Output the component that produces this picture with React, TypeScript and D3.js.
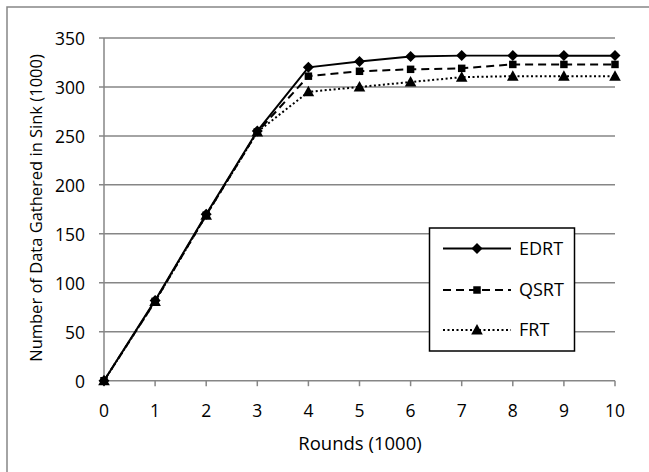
import React from "react";
import * as d3 from "d3";

const rounds = [0, 1, 2, 3, 4, 5, 6, 7, 8, 9, 10];
const edrt = [0, 82, 170, 255, 320, 326, 331, 332, 332, 332, 332];
const qsrt = [0, 81, 169, 254, 311, 316, 318, 319, 323, 323, 323];
const frt = [0, 81, 169, 254, 295, 300, 305, 310, 311, 311, 311];
const yTicks = [0, 50, 100, 150, 200, 250, 300, 350];
const xTicks = [0, 1, 2, 3, 4, 5, 6, 7, 8, 9, 10];
const seriesNames = ["EDRT", "QSRT", "FRT"];
const xTitle = "Rounds (1000)";
const yTitle = "Number of Data Gathered in Sink (1000)";

const W = 649;
const H = 472;
const FONT = "'Open Sans', sans-serif";

export default function App() {
  const x = d3.scaleLinear().domain([0, 10]).range([104, 615]);
  const y = d3.scaleLinear().domain([0, 350]).range([380.7, 38]);

  const series = [
    { name: seriesNames[0], values: edrt, dash: "none", marker: "diamond" },
    { name: seriesNames[1], values: qsrt, dash: "8,5", marker: "square" },
    { name: seriesNames[2], values: frt, dash: "2,2.5", marker: "triangle" },
  ];

  const line = d3
    .line<number>()
    .x((_, i) => x(rounds[i]))
    .y((d) => y(d));

  const symbolPath = (m: string) => {
    if (m === "diamond") return "M0,-5.5L5.5,0L0,5.5L-5.5,0Z";
    if (m === "square") return d3.symbol(d3.symbolSquare, 56)() as string;
    return "M0,-6L5.8,4.5L-5.8,4.5Z";
  };

  const legendX = 429.5;
  const legendY = 228;
  const legendW = 145;
  const legendH = 123;
  const legendRows = [248.5, 290, 330];

  return (
    <svg
      width={W}
      height={H}
      style={{ position: "absolute", left: 0, top: 0 }}
      fontFamily={FONT}
    >
      <rect x={0} y={0} width={W} height={H} fill="#fff" />
      <rect x={7} y={7} width={W} height={H} fill="#fff" stroke="#868686" strokeWidth={1.5} />
      {yTicks.map((t) => (
        <line key={"g" + t} x1={99} x2={615} y1={y(t)} y2={y(t)} stroke="#868686" strokeWidth={1.5} />
      ))}
      <line x1={x(0)} x2={x(0)} y1={y(350)} y2={y(0)} stroke="#868686" strokeWidth={1.5} />
      {xTicks.map((t) => (
        <line key={"xt" + t} x1={x(t)} x2={x(t)} y1={y(0)} y2={y(0) + 5.5} stroke="#868686" strokeWidth={1.5} />
      ))}
      {yTicks.map((t) => (
        <text key={"yl" + t} x={85} y={y(t) + 1} dy="0.36em" textAnchor="end" fontSize={17.5} fill="#000">
          {t}
        </text>
      ))}
      {xTicks.map((t) => (
        <text key={"xl" + t} x={x(t)} y={410.5} dy="0.36em" textAnchor="middle" fontSize={17.5} fill="#000">
          {t}
        </text>
      ))}
      <text x={360} y={443} dy="0.36em" textAnchor="middle" fontSize={18.5} fill="#000">
        {xTitle}
      </text>
      <text
        transform={`translate(36.5,208) rotate(-90)`}
        dy="0.36em"
        textAnchor="middle"
        fontSize={16.5}
        fill="#000"
      >
        {yTitle}
      </text>
      {series.map((s) => (
        <g key={s.name}>
          <path d={line(s.values) as string} fill="none" stroke="#000" strokeWidth={2} strokeDasharray={s.dash} />
          {s.values.map((v, i) => (
            <path
              key={i}
              d={symbolPath(s.marker)}
              transform={`translate(${x(rounds[i])},${y(v)})`}
              fill="#000"
            />
          ))}
        </g>
      ))}
      <rect x={legendX} y={legendY} width={legendW} height={legendH} fill="#fff" stroke="#000" strokeWidth={1.5} />
      {series.map((s, i) => (
        <g key={"lg" + s.name}>
          <line
            x1={443}
            x2={511}
            y1={legendRows[i]}
            y2={legendRows[i]}
            stroke="#000"
            strokeWidth={2}
            strokeDasharray={s.dash}
          />
          <path d={symbolPath(s.marker)} transform={`translate(477,${legendRows[i]})`} fill="#000" />
          <text x={519} y={legendRows[i]} dy="0.36em" fontSize={18} fill="#000">
            {s.name}
          </text>
        </g>
      ))}
    </svg>
  );
}
